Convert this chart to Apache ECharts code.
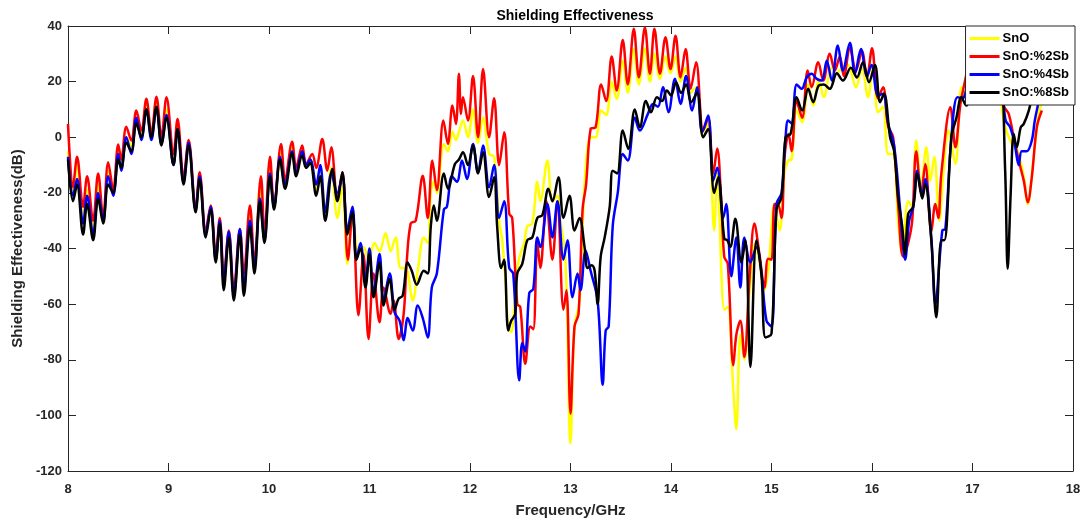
<!DOCTYPE html>
<html>
<head>
<meta charset="utf-8">
<script src="https://cdn.jsdelivr.net/npm/echarts@6/dist/echarts.min.js"></script>
<style>
html,body{margin:0;padding:0;background:#fff;}
#chart{width:1090px;height:527px;}
</style>
</head>
<body>
<div id="chart"></div>
<script>
const seriesNames = ['SnO', 'SnO:%2Sb', 'SnO:%4Sb', 'SnO:%8Sb'];
const xTicks = [8, 9, 10, 11, 12, 13, 14, 15, 16, 17, 18];

const snoData = [
[8.00,-5],[8.05,-20],[8.09,-10],[8.15,-30],[8.19,-19],[8.25,-33],[8.30,-17],[8.35,-30],[8.40,-12],[8.45,-19],
[8.50,-5],[8.53,-9],[8.58,0],[8.63,-3],[8.68,7],[8.73,1],[8.78,12],[8.83,0.5],[8.88,12.5],[8.93,-1.5],
[8.98,10],[9.05,-8],[9.09,4],[9.15,-15],[9.20,-2],[9.27,-26],[9.31,-14],[9.37,-35],[9.42,-26],[9.47,-44],
[9.51,-30],[9.55,-53],[9.60,-35],[9.65,-57],[9.71,-34],[9.75,-53],[9.81,-28],[9.855,-46],[9.91,-18],[9.955,-36],
[10.01,-10],[10.05,-25],[10.12,-5],[10.16,-17],[10.23,-3],[10.27,-13],[10.33,-4],[10.37,-10],[10.41,-8],[10.47,-19],
[10.51,-11],[10.56,-26],[10.62,-11],[10.68,-29],[10.73,-18],[10.78,-45.5],[10.83,-28],[10.89,-41],[10.94,-39.5],[10.99,-44],
[11.05,-38],[11.10,-41],[11.16,-34.5],[11.21,-41],[11.26,-36],[11.31,-47],[11.36,-47],[11.43,-58.7],[11.48,-48],[11.54,-36],
[11.58,-38],[11.61,-20],[11.64,-16],[11.67,-20],[11.74,-2.4],[11.78,-5],[11.825,2],[11.86,-1],[11.89,2],[11.93,6],
[11.98,0],[12.03,10],[12.08,-2],[12.13,7],[12.19,-6],[12.24,-7],[12.29,-30],[12.32,-37],[12.35,-50],[12.38,-68],
[12.41,-70],[12.44,-62],[12.48,-45],[12.52,-40],[12.54,-38],[12.57,-32],[12.62,-31],[12.67,-16],[12.70,-23],[12.77,-8.4],
[12.82,-23],[12.87,-21],[12.90,-30],[12.95,-44],[13.00,-110],[13.04,-68],[13.09,-59],[13.14,-17],[13.20,0],[13.25,0],
[13.305,9.6],[13.355,8],[13.41,20],[13.46,13.8],[13.52,27.5],[13.57,16],[13.63,31.7],[13.68,19],[13.74,32],[13.79,20],
[13.835,30],[13.89,21],[13.945,29],[13.995,23],[14.045,29],[14.095,20],[14.145,25],[14.195,16],[14.25,18],[14.32,0],
[14.37,5],[14.43,-33.5],[14.46,-13],[14.53,-62],[14.565,-61],[14.62,-91],[14.65,-105],[14.69,-71],[14.73,-80],[14.78,-56],
[14.84,-38],[14.88,-45],[14.93,-55],[14.97,-47],[15.03,-24],[15.08,-33.5],[15.13,-13],[15.165,-8.4],[15.20,-8],[15.25,9.6],
[15.305,5.4],[15.365,19],[15.415,11.4],[15.47,20.4],[15.52,14.4],[15.60,25],[15.65,23],[15.70,25],[15.76,26],[15.84,18],
[15.90,25],[15.96,14.4],[16.01,25],[16.06,9],[16.11,11],[16.16,-6],[16.21,-6],[16.26,-30],[16.30,-42],[16.36,-23],
[16.40,-25],[16.44,-1.2],[16.49,-18],[16.54,-3.6],[16.58,-15.6],[16.62,-7],[16.67,-30],[16.71,-13],[16.76,2.4],[16.83,-9.6],
[16.89,18],[16.94,15],[16.98,27.5],[17.03,30],[17.10,28],[17.18,32],[17.25,26],[17.31,6],[17.39,-2.4],[17.44,-4],
[17.51,-14],[17.55,-24],[17.60,-10],[17.66,9],[17.69,12]
];

const sb2Data = [
[8.00,4.8],[8.05,-18],[8.09,-7],[8.15,-25],[8.19,-14],[8.25,-30],[8.30,-13],[8.35,-29],[8.40,-9],[8.45,-19],
[8.50,-2.6],[8.53,-8],[8.58,3.8],[8.63,-1.2],[8.68,9.6],[8.73,2.4],[8.78,13.8],[8.83,1.2],[8.88,14.6],[8.93,0],
[8.98,14.4],[9.05,-6],[9.09,6.6],[9.15,-14],[9.20,-1],[9.27,-25],[9.31,-12.6],[9.37,-33.5],[9.42,-24.5],[9.47,-42],
[9.51,-29],[9.55,-50],[9.60,-33.5],[9.65,-55],[9.71,-33],[9.75,-49],[9.81,-24.5],[9.855,-44],[9.92,-14],[9.955,-35],
[10.01,-7],[10.05,-25],[10.12,-2.4],[10.16,-15.6],[10.23,-1.6],[10.27,-11],[10.33,-3],[10.37,-9.6],[10.43,-6],[10.47,-11],
[10.53,-0.6],[10.58,-12],[10.62,-3.6],[10.68,-22],[10.73,-12.6],[10.785,-44],[10.83,-27],[10.89,-64],[10.94,-42],[10.99,-72.5],
[11.04,-49],[11.10,-66.5],[11.14,-54],[11.21,-63.5],[11.24,-58.7],[11.29,-72.5],[11.34,-63.5],[11.37,-45],[11.41,-31],[11.46,-30],
[11.53,-13.8],[11.58,-29],[11.625,-8.4],[11.67,-19],[11.735,6],[11.78,-2.4],[11.825,11.4],[11.86,4.8],[11.89,22.8],[11.91,8.4],
[11.93,14.4],[11.98,6],[12.03,22],[12.08,0],[12.13,24.5],[12.19,0],[12.24,14],[12.29,-10],[12.34,1.8],[12.39,-27.5],
[12.42,-29],[12.47,-60],[12.50,-61],[12.55,-81.4],[12.60,-68],[12.63,-69],[12.67,-38],[12.70,-47],[12.76,-23],[12.82,-44],
[12.87,-23],[12.93,-62],[12.96,-55],[13.00,-99.4],[13.04,-68],[13.08,-63.5],[13.12,-26],[13.155,-17],[13.20,3],[13.25,3.6],
[13.305,19],[13.355,13],[13.41,29],[13.46,16.8],[13.52,35],[13.57,19],[13.63,39],[13.68,21.5],[13.74,39.5],[13.79,22.8],
[13.835,39],[13.89,22.8],[13.945,36],[13.995,24.5],[14.045,36.5],[14.095,21.5],[14.145,31.7],[14.195,17.4],[14.25,27],[14.32,2.4],
[14.37,7],[14.42,-13],[14.46,-4],[14.50,-23],[14.53,-43],[14.565,-45.5],[14.62,-82],[14.65,-71],[14.69,-66],[14.73,-79],
[14.78,-51.5],[14.83,-31],[14.88,-42],[14.93,-54],[14.965,-43.7],[15.00,-44],[15.03,-24],[15.06,-24],[15.10,-29],[15.13,-7],
[15.17,1.2],[15.20,-5],[15.25,13],[15.305,7],[15.36,24],[15.40,18],[15.465,27],[15.515,20.4],[15.58,30],[15.63,24],
[15.68,29],[15.72,22],[15.78,32],[15.84,24],[15.90,31],[15.95,21.5],[16.00,32],[16.06,14],[16.11,18],[16.16,4],
[16.21,0],[16.26,-24],[16.31,-43],[16.36,-38],[16.40,-30],[16.44,-5],[16.49,-20],[16.53,-9.6],[16.59,-34],[16.63,-24],
[16.66,-29],[16.69,-13],[16.78,10.8],[16.83,-3.6],[16.88,12],[16.94,22.8],[16.98,31],[17.03,38],[17.08,30],[17.13,36],
[17.18,28],[17.23,33],[17.31,11.4],[17.36,8.4],[17.41,0],[17.46,-8.4],[17.51,-15.6],[17.55,-23.4],[17.59,-14.4],[17.64,3.6],
[17.69,9.6]
];

const sb4Data = [
[8.00,-7],[8.05,-21],[8.09,-15],[8.15,-31],[8.19,-21],[8.25,-35],[8.30,-20],[8.35,-30],[8.40,-14],[8.45,-21],
[8.50,-6],[8.53,-12],[8.58,0],[8.63,-6],[8.68,7],[8.73,-1],[8.78,10],[8.83,-1],[8.88,10.5],[8.93,-2.5],
[8.98,8],[9.05,-10],[9.09,3],[9.15,-16],[9.20,-2],[9.27,-26],[9.31,-14],[9.37,-35],[9.42,-25],[9.47,-44],
[9.51,-30],[9.55,-52],[9.60,-34],[9.65,-57],[9.71,-33],[9.75,-54],[9.81,-30],[9.855,-47],[9.91,-22],[9.955,-37],
[10.01,-13],[10.05,-25],[10.11,-7],[10.16,-17],[10.23,-5],[10.27,-13],[10.33,-5],[10.37,-10],[10.41,-8],[10.47,-17],
[10.51,-10],[10.56,-27],[10.62,-13],[10.68,-20],[10.73,-14],[10.78,-33],[10.83,-25],[10.87,-44],[10.91,-38],[10.96,-52],
[11.00,-40],[11.04,-56],[11.10,-42],[11.14,-59],[11.20,-49],[11.25,-63],[11.30,-66],[11.34,-73],[11.38,-65],[11.43,-69.5],
[11.48,-60.5],[11.53,-65],[11.58,-72],[11.62,-54],[11.67,-49],[11.74,-26],[11.77,-25],[11.82,-14],[11.87,-16],[11.92,-8.4],
[11.97,-15],[12.03,-2.4],[12.08,-12.6],[12.13,-3],[12.19,-18],[12.24,-10],[12.29,-29],[12.34,-23],[12.39,-47],[12.43,-49],
[12.49,-87.4],[12.52,-74],[12.55,-77],[12.59,-56],[12.63,-54.5],[12.67,-36],[12.70,-39.5],[12.77,-24],[12.82,-36],[12.87,-23],
[12.93,-44],[12.97,-37],[13.02,-57.5],[13.07,-49],[13.10,-55],[13.15,-40.7],[13.20,-48],[13.27,-58.7],[13.32,-89],[13.35,-69.5],
[13.38,-68],[13.42,-32],[13.47,-20],[13.52,-6],[13.57,-8.4],[13.64,7],[13.69,2.4],[13.77,8.4],[13.82,12],[13.87,11],
[13.92,18],[13.975,9],[14.04,21],[14.095,12],[14.15,22],[14.21,9.6],[14.26,18],[14.31,1.8],[14.37,7.8],[14.42,-15.6],
[14.46,-11],[14.52,-29],[14.55,-24],[14.60,-50],[14.65,-36],[14.69,-54],[14.73,-36],[14.79,-45],[14.85,-39.5],[14.90,-49],
[14.95,-66],[15.00,-68],[15.05,-24],[15.10,-20],[15.14,0],[15.165,6],[15.20,5],[15.25,19],[15.30,17.4],[15.35,21.5],
[15.40,22.8],[15.45,21],[15.50,20.4],[15.55,27.5],[15.60,20.4],[15.66,33],[15.71,24],[15.78,34],[15.83,22.8],[15.89,31.7],
[15.95,22],[15.995,26],[16.06,15],[16.11,15.6],[16.16,5],[16.22,-3],[16.28,-26],[16.33,-44],[16.37,-30],[16.41,-25],
[16.45,-12],[16.50,-21],[16.53,-15],[16.59,-36],[16.63,-60],[16.70,-33.5],[16.73,-33],[16.79,0],[16.85,14.4],[16.90,14],
[16.96,20],[17.00,22],[17.05,27],[17.12,30],[17.20,28],[17.29,18],[17.33,6],[17.375,3.6],[17.42,-2.4],[17.46,-10],
[17.49,-5],[17.54,-5],[17.59,-1.2],[17.62,6],[17.66,13]
];

const sb8Data = [
[8.00,-8],[8.05,-23],[8.09,-17],[8.15,-35],[8.19,-24],[8.25,-37],[8.30,-22],[8.35,-31],[8.40,-17],[8.45,-20],
[8.50,-8],[8.53,-11],[8.58,-2],[8.63,-5],[8.68,5],[8.73,0],[8.78,10],[8.83,0],[8.88,11],[8.93,-3],
[8.98,7],[9.05,-10],[9.09,3],[9.15,-17],[9.20,-3],[9.27,-27],[9.31,-15],[9.37,-36],[9.42,-26],[9.47,-45],
[9.51,-31],[9.55,-55],[9.60,-36],[9.65,-58.7],[9.71,-35],[9.75,-57],[9.81,-32],[9.855,-49],[9.91,-23],[9.955,-38],
[10.01,-14],[10.05,-26],[10.11,-8],[10.16,-18.5],[10.23,-5.7],[10.27,-14],[10.33,-6.6],[10.37,-11],[10.41,-9.3],[10.47,-21],
[10.51,-14],[10.56,-30],[10.63,-11.4],[10.68,-23],[10.73,-12.6],[10.78,-35],[10.83,-27],[10.87,-44],[10.91,-40],[10.96,-54],
[11.00,-42],[11.04,-57.5],[11.10,-45],[11.14,-60.5],[11.20,-51],[11.25,-62],[11.29,-58],[11.33,-57],[11.38,-45],[11.42,-48],
[11.47,-53],[11.54,-48],[11.58,-49],[11.61,-32],[11.64,-24.5],[11.67,-30],[11.74,-13],[11.78,-18.5],[11.85,-9.6],[11.89,-8],
[11.93,-5.4],[11.98,-10],[12.03,-3],[12.08,-13],[12.13,-5.4],[12.19,-21.5],[12.24,-14.4],[12.27,-32],[12.31,-47],[12.34,-44],
[12.38,-69.5],[12.41,-66],[12.45,-63.5],[12.47,-49],[12.52,-45.5],[12.57,-37],[12.62,-36],[12.67,-29],[12.72,-28],[12.78,-18.5],
[12.82,-23],[12.88,-14.4],[12.93,-29],[12.99,-21],[13.04,-33.5],[13.09,-29],[13.14,-39.5],[13.17,-47],[13.21,-46],[13.24,-48],
[13.27,-60],[13.30,-43],[13.34,-36],[13.39,-25],[13.42,-12],[13.465,-13],[13.52,2.4],[13.575,-4.2],[13.64,10],[13.69,3.6],
[13.75,13],[13.80,9],[13.86,14.4],[13.91,13],[13.96,16.8],[14.00,15],[14.05,19.8],[14.10,16],[14.15,19],[14.20,12.6],
[14.26,16],[14.32,0],[14.37,3],[14.43,-20],[14.47,-14.4],[14.53,-36.5],[14.56,-37],[14.59,-39.5],[14.64,-29.3],[14.70,-45],
[14.74,-37],[14.79,-82.6],[14.85,-37],[14.90,-49],[14.94,-72],[15.00,-70.6],[15.05,-26],[15.10,-21.5],[15.14,0],[15.19,1.2],
[15.25,14.4],[15.305,9.6],[15.365,17.4],[15.415,12.6],[15.47,18.6],[15.52,19],[15.58,17.4],[15.65,23],[15.71,20.4],[15.79,25],
[15.85,21.5],[15.91,27],[15.97,19.8],[16.03,26],[16.08,12.6],[16.12,15.6],[16.18,0],[16.22,-5],[16.26,-21.5],[16.30,-32],
[16.33,-42],[16.36,-27.5],[16.41,-25],[16.45,-13],[16.50,-22],[16.53,-16.8],[16.59,-37],[16.64,-64.7],[16.69,-37],[16.72,-37],
[16.79,0],[16.84,7],[16.89,14.4],[16.94,11.4],[16.98,14],[17.05,20],[17.12,28],[17.20,25],[17.27,30],[17.325,-12],
[17.35,-47.3],[17.38,-20],[17.41,1.2],[17.44,-3.6],[17.48,3.6],[17.51,4.8],[17.56,9.6],[17.59,14.4],[17.63,22],[17.67,28]
];

const seriesData = [snoData, sb2Data, sb4Data, sb8Data];
const seriesColors = ['#FFFF00', '#FF0000', '#0000FF', '#000000'];

const axisColor = '#262626';
const fontFam = 'Liberation Sans, Arial, sans-serif';
const labelFont = {color: axisColor, fontWeight: 'bold', fontSize: 13, fontFamily: fontFam};

function frameAxis(extra) {
  return Object.assign({
    axisLine: {show: true, onZero: false, lineStyle: {color: axisColor, width: 1}},
    axisTick: {show: true, inside: true, length: 8, lineStyle: {color: axisColor}},
    axisLabel: {show: false},
    splitLine: {show: false}
  }, extra);
}

const chart = echarts.init(document.getElementById('chart'), null, {renderer: 'canvas'});
chart.setOption({
  animation: false,
  backgroundColor: '#ffffff',
  title: {
    text: 'Shielding Effectiveness',
    left: 570, top: 4, textAlign: 'center',
    textStyle: {fontSize: 14, fontWeight: 'bold', color: '#000', fontFamily: fontFam}
  },
  legend: {
    data: seriesNames,
    orient: 'vertical',
    right: 15, top: 26,
    backgroundColor: '#ffffff',
    borderColor: '#262626', borderWidth: 1,
    padding: [6, 6, 6, 4],
    itemGap: 5,
    itemWidth: 30, itemHeight: 3,
    icon: 'rect',
    textStyle: {fontSize: 13, fontWeight: 'bold', color: '#000', fontFamily: fontFam, padding: [0,0,0,-2]}
  },
  grid: {left: 68, right: 17, top: 26, bottom: 56, containLabel: false, show: false},
  xAxis: [
    frameAxis({
      type: 'value', min: 8, max: 18, interval: 1, position: 'bottom',
      name: 'Frequency/GHz', nameLocation: 'middle', nameGap: 32,
      nameTextStyle: {fontSize: 15, fontWeight: 'bold', color: axisColor, fontFamily: fontFam},
      axisLabel: Object.assign({show: true, margin: 12, formatter: v => xTicks.includes(v) ? String(v) : ''}, labelFont)
    }),
    frameAxis({type: 'value', min: 8, max: 18, interval: 1, position: 'top'})
  ],
  yAxis: [
    frameAxis({
      type: 'value', min: -120, max: 40, interval: 20, position: 'left',
      name: 'Shielding Effectiveness(dB)', nameLocation: 'middle', nameGap: 42,
      nameTextStyle: {fontSize: 15, fontWeight: 'bold', color: axisColor, fontFamily: fontFam},
      axisLabel: Object.assign({show: true, margin: 6}, labelFont)
    }),
    frameAxis({type: 'value', min: -120, max: 40, interval: 20, position: 'right'})
  ],
  series: seriesNames.map((name, i) => ({
    name: name,
    type: 'line',
    xAxisIndex: 0, yAxisIndex: 0,
    data: seriesData[i],
    smooth: 0.35,
    symbol: 'none',
    lineStyle: {color: seriesColors[i], width: 2.5},
    itemStyle: {color: seriesColors[i]},
    clip: true
  }))
});
</script>
</body>
</html>
